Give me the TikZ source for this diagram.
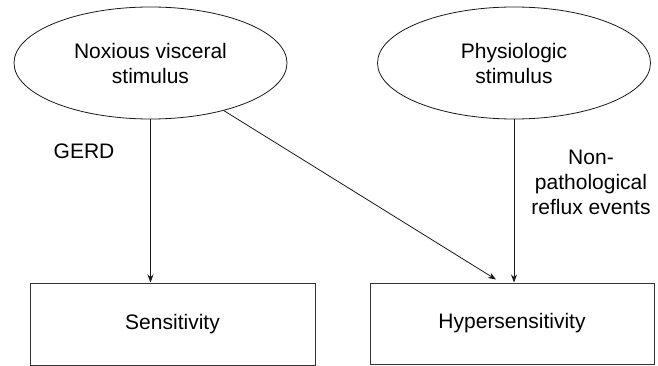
\documentclass[tikz,border=0pt]{standalone}
\usepackage{fontspec}
\setmainfont{Liberation Sans}
\usetikzlibrary{shapes.geometric,arrows.meta}
\tikzset{
  stim/.style={ellipse,draw=black!90,line width=0.8pt,minimum width=273pt,minimum height=112pt,inner sep=0pt,align=center},
  resp/.style={rectangle,draw=black!80,line width=1pt,inner sep=0pt},
  lbl/.style={align=center,inner sep=0pt},
  flow/.style={draw=black!90,line width=0.8pt,-{Stealth[length=8pt,width=6pt]}}
}
\begin{document}
\begin{tikzpicture}[x=1pt,y=-1pt,font=\fontsize{21}{25}\selectfont]
        \useasboundingbox (0,0) rectangle (658,366);
        \node[stim] (nox) at (150.5,63) {Noxious visceral\\stimulus};
        \node[stim] (phy) at (514,63) {Physiologic\\stimulus};
        \node[resp,minimum width=285pt,minimum height=82pt] (sens) at (172.5,324) {Sensitivity};
        \node[resp,minimum width=284pt,minimum height=81pt] (hyp) at (512,323.5) {Hypersensitivity};
        \node[lbl] (gerd) at (84,151) {GERD};
        \node[lbl] (nonpath) at (591,182) {Non-\\pathological\\reflux events};
        \draw[flow] (nox.south) -- (nox.south |- sens.north);
        \draw[flow] (nox.-33) -- ([xshift=-16pt,yshift=3pt]hyp.north);
        \draw[flow] (phy.south) -- (phy.south |- hyp.north);
    \end{tikzpicture}
\end{document}
